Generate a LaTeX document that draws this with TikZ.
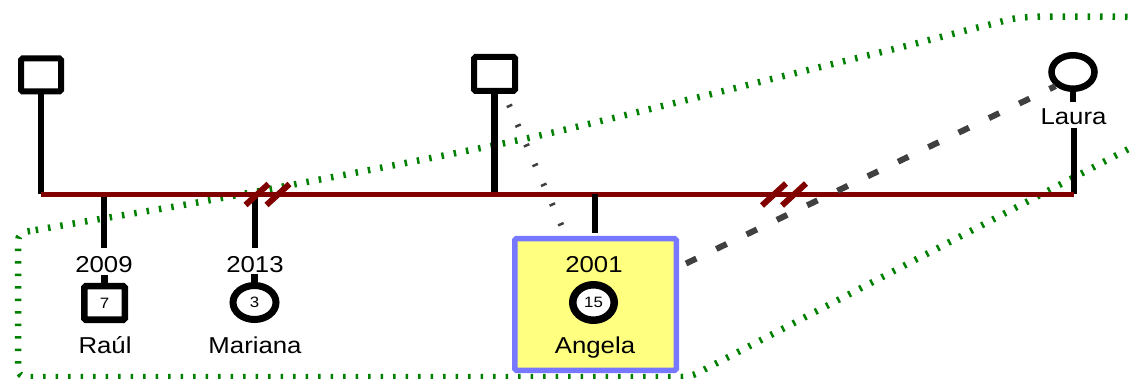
\documentclass[tikz,border=0pt]{standalone}
\usepackage{fontspec}
\newfontfamily\lblfont{Liberation Sans}[FakeStretch=1.12]
\usetikzlibrary{shapes.geometric}
\definecolor{kinred}{HTML}{800000}
\definecolor{hhgreen}{HTML}{008000}
\definecolor{relgray}{HTML}{404040}
\definecolor{boxblue}{HTML}{7777FF}
\definecolor{boxyellow}{HTML}{FFFF80}
\begin{document}
\begin{tikzpicture}[x=1pt,y=-1pt,
 male/.style={draw=black,line width=6pt,rectangle,rounded corners=1.5pt,inner sep=0pt,fill=white,font=\lblfont\fontsize{15}{18}\selectfont},
 female/.style={draw=black,line width=7pt,ellipse,inner sep=0pt,fill=white,font=\lblfont\fontsize{15}{18}\selectfont},
 bigtext/.style={font=\lblfont\fontsize{23}{27}\selectfont,inner sep=0pt,anchor=base},
 tie/.style={draw=black,line width=6.5pt},
 marriage/.style={draw=kinred,line width=5.5pt},
 cut/.style={draw=kinred,line width=6pt},
 household/.style={draw=hhgreen,line width=6.5pt,dash pattern=on 2.5pt off 10pt},
 relation/.style={draw=relgray,line width=6pt,dash pattern=on 11.5pt off 22.1pt},
 faint/.style={draw=relgray,line width=6pt,dash pattern=on 2.5pt off 19pt,dash phase=6.5pt},
 focus/.style={draw=boxblue,fill=boxyellow,line width=5.5pt,rectangle,rounded corners=1.5pt,inner sep=0pt}
]
\useasboundingbox (0,0) rectangle (1135,379);
% household boundary
\draw[household] plot[smooth] coordinates {(1140,17) (1030,17) (988,25) (902,47) (800,72) (687,100) (533,137) (385,167) (200,202) (100,219) (30,231)};
\draw[household,rounded corners=8pt] (30,231) -- (18,233) -- (18,377) -- (690,377) -- (1140,143);
% coordinates
\coordinate (m1) at (41,194.5);
\coordinate (m2) at (1074,194.5);
\coordinate (c1) at (104,194.5);
\coordinate (c1e) at (104,248);
\coordinate (c2) at (255,194.5);
\coordinate (c2e) at (255,248);
\coordinate (c3) at (595,194.5);
\coordinate (l1) at (1074,128);
\coordinate (s1) at (267.5,194.5);
\coordinate (s2) at (784.5,194.5);
\coordinate (r1) at (686,263.5);
\coordinate (q1) at (503,91);
\coordinate (q2) at (566,236);
% parents
\node[male,minimum width=40pt,minimum height=33pt] (f1) at (41,75) {};
\node[male,minimum width=41pt,minimum height=34pt] (f2) at (494.5,74) {};
\node[female,line width=6.5pt,minimum width=43pt,minimum height=33.5pt] (lauraC) at (1073,72) {};
\node[bigtext] (lauraL) at (1073.5,125) {Laura};
% vertical ties
\draw[tie] (f1.south) -- (m1);
\draw[tie] (f2.south) -- (f2.south |- m1);
\draw[tie] (lauraC.south) -- ++(0,10);
\draw[tie] (l1) -- (m2);
\draw[tie] (c1) -- (c1e);
\draw[tie] (c2) -- (c2e);
% marriage line
\draw[marriage] (m1) -- (m2);
\draw[cut] (s1) ++(-22,10.5) -- ++(23,-21) (s1) ++(-1,10.5) -- ++(23,-21);
\draw[cut] (s2) ++(-22.5,11) -- ++(24,-22) (s2) ++(-2.5,11) -- ++(24,-22);
% children
\node[bigtext] (y1) at (104,273) {2009};
\node[male,line width=6.5pt,minimum width=40.5pt,minimum height=33.5pt] (raul) at (104.5,303) {7};
\draw[tie] (raul.north) -- ++(0,-8);
\node[bigtext] (n1) at (105,353) {Raúl};
\node[bigtext] (y2) at (255,273) {2013};
\node[female,minimum width=43pt,minimum height=34pt] (marC) at (254.5,302.5) {3};
\draw[tie] (marC.north) -- ++(0,-8);
\node[bigtext] (n2) at (255,353) {Mariana};
% focus person
\node[focus,minimum width=161.5pt,minimum height=131.5pt] (angBox) at (595.5,304.5) {};
\draw[tie] (c3) -- ([yshift=2.75pt]angBox.north -| c3);
\node[bigtext] (y3) at (594,273) {2001};
\node[female,line width=7.5pt,minimum width=41.5pt,minimum height=35.5pt] (angC) at (593.5,302.5) {15};
\node[bigtext] (n3) at (595,353) {Angela};
% relations
\draw[relation] (r1) -- (lauraC.south west);
\draw[faint] (q1) -- (q2);
\end{tikzpicture}
\end{document}
